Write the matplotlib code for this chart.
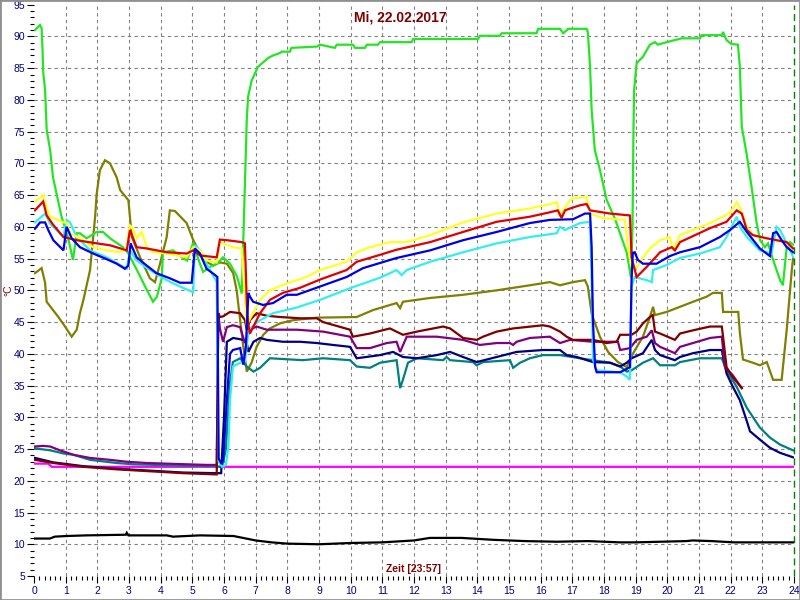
import matplotlib
matplotlib.use("Agg")
import matplotlib.pyplot as plt
from matplotlib.patches import Rectangle
import numpy as np

plt.rcParams['font.family'] = ['Liberation Sans', 'DejaVu Sans']

title_text = "Mi, 22.02.2017"
xlabel_text = "Zeit [23:57]"
ylabel_text = "°C"

# ---- series data (hour of day, °C) ----
green_t = [0.03, 0.19, 0.24, 0.27, 0.29, 0.35, 0.40, 0.51, 0.60, 0.87, 1.07, 1.23, 1.35, 1.45, 1.66, 1.98, 2.18, 2.40,
           2.81, 2.97, 3.25, 3.57, 3.76, 3.88, 4.04, 4.07, 4.39, 4.67, 4.83, 5.02, 5.24, 5.34, 5.56, 5.78, 5.97, 6.19,
           6.41, 6.56, 6.72, 6.76, 6.87, 7.07, 7.39, 7.55, 7.77, 7.82, 8.08, 8.13, 8.93, 9.03, 9.50, 9.56, 10.07, 10.14,
           10.45, 10.51, 10.86, 10.93, 11.93, 11.97, 14.02, 14.08, 14.71, 14.77, 15.87, 15.92, 16.61, 16.71, 16.83,
           16.86, 17.45, 17.49, 17.56, 17.61, 17.71, 17.87, 18.08, 18.36, 18.72, 18.85, 18.90, 18.93, 18.95, 19.03,
           19.23, 19.45, 19.61, 19.70, 19.98, 20.45, 21.03, 21.08, 21.72, 21.76, 21.87, 22.03, 22.23, 22.29, 22.35,
           22.50, 22.66, 22.82, 22.93, 23.08, 23.18, 23.34, 23.56, 23.65, 23.77, 23.87, 23.97]
green_v = [91.0, 91.8, 91.3, 87.9, 84.4, 81.6, 75.3, 72.1, 67.8, 61.6, 58.4, 54.8, 59.0, 59.0, 58.2, 59.2, 59.2, 58.2,
           56.8, 55.9, 53.2, 50.0, 48.2, 49.0, 52.0, 56.0, 56.3, 55.2, 54.7, 57.4, 54.2, 52.9, 53.7, 54.2, 55.2, 54.2,
           52.2, 49.5, 77.0, 80.5, 83.0, 85.2, 86.6, 87.0, 87.4, 87.6, 87.6, 88.2, 88.4, 88.7, 88.2, 88.7, 88.7, 88.2,
           88.2, 88.7, 88.7, 89.1, 89.1, 89.6, 89.6, 90.1, 90.1, 90.5, 90.5, 91.2, 91.2, 90.5, 91.0,
           91.2, 91.2, 90.7, 85.2, 78.4, 72.1, 69.0, 64.3, 61.1, 55.9, 52.0, 60.0, 75.0, 81.5, 85.8,
           86.8, 88.7, 89.1, 88.7, 89.1, 89.7, 89.7, 90.2, 90.2, 90.7, 89.4, 88.8, 88.7, 85.2, 75.8,
           71.6, 66.3, 60.6, 57.9, 56.8, 57.4, 54.8, 51.6, 50.8, 56.8, 57.6, 57.2]

yellow_t = [0.03, 0.29, 0.40, 0.51, 0.93, 1.03, 1.14, 1.45, 1.87, 2.30, 2.72, 2.93, 3.03, 3.14, 3.24, 3.40, 3.56, 3.77,
            4.19, 4.82, 5.03, 5.24, 5.45, 5.77, 5.87, 6.29, 6.56, 6.72, 6.82, 7.14, 7.45, 7.98, 8.61, 9.03, 9.35, 9.87,
            10.19, 10.61, 11.24, 11.77, 12.51, 13.55, 14.61, 15.66, 16.39, 16.51, 16.61, 16.71, 16.93, 17.02, 17.45,
            17.56, 17.97, 18.66, 18.76, 18.87, 19.03, 19.13, 19.45, 19.77, 20.08, 20.18, 20.40, 20.81, 21.44, 21.98,
            22.19, 22.29, 22.51, 22.70, 22.92, 23.14, 23.45, 23.65, 23.97]
yellow_v = [64.0, 65.0, 63.0, 61.6, 60.7, 60.7, 59.0, 58.2, 56.8, 56.3, 56.0, 56.8, 60.3, 59.5, 58.2, 59.2, 56.8, 56.0,
            55.8, 55.2, 56.8, 56.3, 54.7, 54.4, 57.6, 56.8, 56.6, 44.5, 45.5, 48.5, 50.0, 51.1, 52.1, 53.2, 53.7, 54.5,
            56.0, 56.8, 57.6, 57.6, 58.7, 60.7, 62.1, 62.9, 63.7, 63.9, 61.6, 62.6, 64.2, 64.5, 64.7,
            62.1, 61.4, 61.1, 56.8, 53.7, 53.5, 54.5, 56.6, 57.9, 58.4, 56.3, 58.7, 59.5, 60.8, 62.2,
            63.9, 63.1, 60.0, 58.7, 58.4, 58.2, 57.9, 57.6, 56.8]

red_t = [0.03, 0.29, 0.40, 0.61, 0.93, 1.35, 1.98, 2.40, 2.93, 3.03, 3.24, 3.56, 4.19, 4.82, 5.03, 5.24, 5.77, 5.87,
         6.09, 6.56, 6.66, 6.72, 6.76, 6.82, 7.14, 7.45, 7.86, 8.40, 9.03, 9.87, 10.19, 10.93, 11.45, 12.51, 13.55,
         14.61, 15.66, 16.29, 16.54, 16.66, 16.77, 16.93, 17.24, 17.45, 17.56, 18.19, 18.82, 18.87, 19.03, 19.35,
         19.77, 20.14, 20.24, 20.40, 21.35, 21.87, 22.19, 22.35, 22.51, 22.70, 23.14, 23.45, 23.77, 23.97]
red_v = [62.6, 64.0, 61.8, 60.3, 58.4, 57.9, 57.4, 57.1, 56.3, 59.5, 56.8, 56.6, 56.0, 55.8, 56.3, 55.5, 55.2, 58.0,
         57.9, 57.6, 57.4, 48.0, 44.8, 43.2, 46.4, 48.5, 49.6, 50.4, 51.7, 53.2, 54.5, 55.6, 56.4, 57.6, 59.2,
         60.8, 61.6, 62.3, 62.6, 61.4, 62.6, 62.9, 63.4, 63.6, 62.6, 62.1, 61.8, 55.2, 52.1, 53.7,
         56.0, 56.8, 56.3, 57.6, 59.8, 60.8, 62.6, 62.1, 59.5, 58.7, 58.2, 57.9, 57.6, 56.6]

blue_t = [0.03, 0.19, 0.35, 0.45, 0.61, 0.93, 1.03, 1.19, 1.45, 1.87, 2.30, 2.61, 2.87, 2.98, 3.05, 3.24, 3.56, 3.87,
          4.29, 4.61, 4.98, 5.08, 5.24, 5.45, 5.72, 5.79, 5.83, 5.91, 5.97, 6.09, 6.19, 6.28, 6.51, 6.61, 6.69, 6.77,
          6.82, 6.92, 7.23, 7.55, 7.98, 8.30, 9.03, 9.87, 10.39, 11.45, 12.51, 13.55, 14.61, 15.66, 16.29, 17.02,
          17.40, 17.56, 17.61, 17.65, 17.72, 17.77, 18.51, 18.82, 18.87, 18.91, 18.97, 19.07, 19.23, 19.66, 20.08,
          20.40, 21.03, 21.66, 21.98, 22.29, 22.51, 22.92, 23.24, 23.34, 23.45, 23.61, 23.77, 23.97]
blue_v = [59.7, 60.7, 60.7, 59.5, 57.9, 56.3, 60.0, 58.2, 56.8, 55.8, 54.9, 54.2, 53.4, 53.9, 57.4, 55.2, 53.9, 52.7,
          51.9, 51.2, 51.2, 56.6, 55.8, 53.4, 52.4, 52.1, 23.5, 22.8, 23.2, 32.7, 40.0, 40.6, 40.9, 38.3, 41.1, 49.6,
          49.0, 48.2, 47.7, 48.0, 49.3, 49.3, 50.6, 52.1, 53.5, 55.1, 56.3, 57.9, 59.2, 60.6, 61.1, 61.2,
          62.1, 62.1, 56.8, 45.3, 37.9, 37.1, 37.1, 37.9, 51.6, 55.9, 56.0, 54.8, 54.2, 54.2, 55.4,
          56.0, 56.8, 58.4, 59.5, 60.8, 59.2, 56.6, 55.4, 59.0, 59.2, 57.9, 56.8, 56.0]

cyan_t = [0.03, 0.35, 0.51, 0.93, 1.03, 1.14, 1.35, 1.77, 2.30, 2.93, 3.03, 3.24, 3.66, 4.19, 4.61, 5.03, 5.08, 5.24,
          5.45, 5.77, 5.83, 5.94, 6.06, 6.14, 6.19, 6.28, 6.51, 6.66, 6.76, 6.82, 7.14, 7.55, 8.30, 9.03, 10.07, 10.93,
          11.45, 11.61, 11.77, 12.51, 13.55, 14.61, 15.66, 16.51, 16.61, 16.77, 17.24, 17.56, 17.61, 17.65, 17.77,
          18.51, 18.72, 18.82, 18.87, 18.97, 19.35, 19.51, 19.55, 19.98, 20.40, 21.03, 21.66, 21.87, 22.19, 22.29,
          22.51, 22.92, 23.29, 23.45, 23.56, 23.77, 23.97]
cyan_v = [60.7, 62.1, 60.5, 58.4, 61.1, 60.7, 58.4, 56.3, 55.2, 53.4, 56.3, 54.7, 53.2, 51.6, 50.6, 49.7, 57.1, 56.3,
          54.2, 51.3, 23.0, 22.2, 22.5, 25.5, 32.7, 38.0, 38.6, 38.8, 43.0, 44.0, 45.3, 46.4, 47.3, 48.5, 50.5, 52.0,
          53.2, 52.4, 53.2, 54.5, 56.0, 57.4, 58.4, 59.0, 60.0, 59.5, 60.6, 60.8, 51.6, 39.1, 37.4,
          37.1, 36.4, 35.9, 50.6, 52.1, 51.6, 51.3, 53.2, 54.0, 55.1, 55.8, 56.8, 58.4, 61.6, 60.0,
          58.4, 56.3, 55.8, 60.0, 59.5, 57.4, 55.3]

olive_t = [0.03, 0.24, 0.35, 0.40, 0.77, 0.98, 1.19, 1.35, 1.45, 1.56, 1.77, 1.93, 1.98, 2.08, 2.24, 2.40, 2.61, 2.72,
           2.98, 3.09, 3.35, 3.66, 3.82, 3.98, 4.19, 4.29, 4.45, 4.82, 5.03, 5.35, 5.66, 5.87, 6.09, 6.29, 6.40, 6.51,
           6.61, 6.72, 6.87, 7.03, 7.24, 7.45, 7.77, 8.18, 8.93, 10.19, 10.71, 11.45, 11.56, 11.65, 12.51, 13.55,
           14.61, 15.66, 16.29, 16.61, 17.02, 17.40, 17.49, 17.61, 17.87, 18.13, 18.44, 18.72, 18.91, 19.23, 19.45,
           19.55, 19.61, 19.98, 20.81, 21.24, 21.44, 21.72, 21.76, 22.24, 22.29, 22.39, 22.70, 22.92, 23.14, 23.34,
           23.61, 23.77, 23.93, 23.97]
olive_v = [52.7, 53.5, 51.2, 48.2, 45.8, 44.3, 42.7, 43.8, 46.4, 48.5, 53.2, 61.6, 65.2, 68.9, 70.5, 70.0, 67.8, 65.8,
           64.2, 58.4, 55.2, 51.9, 51.3, 54.2, 58.4, 62.6, 62.5, 60.6, 57.9, 54.8, 53.9, 54.4, 54.2, 52.7, 50.0, 45.3,
           41.1, 37.2, 38.6, 41.1, 43.0, 44.0, 44.8, 45.3, 45.7, 45.8, 46.9, 48.0, 47.2, 48.2, 48.8, 49.3,
           50.0, 50.8, 51.3, 50.8, 51.3, 51.6, 50.6, 46.3, 42.7, 40.3, 38.7, 37.9, 40.0, 42.7, 45.8,
           47.4, 46.1, 46.6, 48.2, 49.0, 49.6, 49.6, 46.6, 46.6, 43.3, 39.1, 38.6, 38.2, 38.7, 35.9,
           35.9, 43.8, 53.2, 55.0]

maroon_t = [0.03, 0.61, 1.56, 2.61, 3.66, 4.71, 5.77, 5.82, 5.87, 5.97, 6.19, 6.51, 6.66, 6.72, 6.82, 7.03, 7.35, 7.77,
            8.40, 8.93, 9.13, 9.98, 10.07, 10.61, 11.24, 11.65, 12.09, 12.92, 13.14, 13.55, 13.98, 14.18, 14.61, 15.13,
            16.07, 16.29, 16.61, 16.82, 17.02, 17.65, 18.08, 18.40, 18.51, 18.87, 19.03, 19.23, 19.45, 19.54, 19.61,
            19.77, 20.24, 20.40, 20.81, 21.35, 21.72, 21.76, 21.87, 22.07, 22.35]
maroon_v = [23.3, 22.8, 22.2, 21.8, 21.5, 21.2, 21.0, 46.4, 45.8, 45.9, 46.6, 46.4, 45.3, 43.8, 45.3, 46.4, 46.0, 45.8,
            45.6, 45.6, 45.0, 43.8, 42.7, 43.2, 44.0, 43.0, 43.5, 44.3, 44.0, 42.5, 42.2, 42.7, 43.5, 44.0,
            44.5, 44.3, 43.5, 42.7, 42.2, 42.2, 41.7, 41.9, 43.0, 43.0, 43.5, 44.8, 45.8, 46.1, 43.5,
            43.2, 42.2, 43.2, 43.7, 44.3, 44.3, 42.7, 37.9, 36.3, 34.6]

purple_t = [0.03, 0.29, 0.51, 0.82, 1.24, 1.77, 2.40, 2.93, 3.56, 4.19, 4.82, 5.45, 5.77, 5.82, 5.87, 5.97, 6.09, 6.28,
            6.51, 6.66, 6.82, 7.03, 7.35, 8.30, 9.13, 9.98, 10.19, 10.61, 11.14, 11.45, 11.56, 11.77, 12.72, 13.55,
            14.08, 14.61, 15.03, 15.13, 15.24, 15.66, 16.29, 16.61, 16.93, 17.65, 18.44, 18.51, 18.82, 19.03, 19.35,
            19.51, 19.61, 19.77, 20.24, 20.40, 20.81, 21.35, 21.72, 21.82, 22.07, 22.35]
purple_v = [25.4, 25.5, 25.4, 24.8, 24.1, 23.6, 23.3, 23.0, 22.8, 22.7, 22.6, 22.5, 22.5, 46.4, 44.0, 41.9, 44.2, 44.5,
            44.2, 41.7, 43.8, 44.3, 43.8, 43.8, 43.5, 42.7, 40.9, 40.9, 41.7, 41.9, 40.3, 42.7, 42.7, 42.2,
            41.4, 41.7, 41.7, 41.4, 41.9, 42.5, 42.7, 41.7, 42.2, 41.9, 41.9, 40.6, 40.9, 42.2, 42.7,
            43.7, 41.7, 41.1, 40.1, 41.1, 41.7, 42.5, 42.7, 37.9, 36.6, 34.6]

navy_t = [0.03, 0.61, 1.56, 2.61, 3.66, 4.71, 5.77, 5.91, 6.00, 6.09, 6.29, 6.61, 6.72, 6.77, 6.93, 7.14, 7.35, 7.86,
          8.40, 8.93, 9.44, 9.98, 10.19, 10.93, 11.34, 11.65, 12.09, 12.72, 13.14, 13.55, 13.98, 14.61, 15.24, 16.07,
          16.61, 16.82, 17.14, 17.65, 18.19, 18.51, 18.72, 18.87, 19.23, 19.51, 19.61, 19.77, 20.24, 20.40, 20.81,
          21.35, 21.72, 21.87, 22.07, 22.29, 22.51, 22.61, 22.92, 23.24, 23.56, 23.97]
navy_v = [23.6, 22.9, 22.3, 21.9, 21.6, 21.3, 21.2, 21.2, 30.0, 41.9, 42.5, 42.2, 41.7, 40.3, 41.9, 42.5, 42.2, 41.9,
          41.9, 41.7, 41.4, 41.1, 39.3, 39.8, 40.3, 39.5, 39.3, 39.8, 40.3, 39.5, 38.7, 39.5, 40.3, 40.6,
          40.6, 39.8, 39.5, 38.7, 38.6, 38.0, 38.6, 39.3, 40.1, 42.2, 40.6, 39.8, 39.0, 39.5, 40.1,
          40.6, 40.6, 36.9, 34.8, 32.7, 29.4, 27.8, 26.5, 25.2, 24.4, 23.7]

teal_t = [0.03, 0.51, 0.93, 1.24, 1.77, 2.61, 3.14, 4.61, 5.66, 5.94, 6.06, 6.19, 6.28, 6.51, 6.72, 6.93, 7.14, 7.45,
          8.49, 9.13, 9.98, 10.19, 10.61, 10.93, 11.45, 11.49, 11.56, 11.65, 11.81, 12.09, 12.92, 13.03, 13.14, 13.86,
          13.98, 14.18, 15.03, 15.13, 15.35, 15.66, 16.07, 16.61, 17.24, 17.65, 18.19, 18.51, 18.72, 18.87, 19.23,
          19.55, 19.77, 20.24, 20.40, 21.03, 21.72, 21.87, 22.19, 22.51, 22.92, 23.24, 23.56, 23.97]
teal_v = [25.1, 24.8, 24.3, 24.1, 23.3, 22.8, 22.6, 22.4, 22.3, 22.2, 25.0, 35.4, 38.7, 39.3, 38.0, 37.2, 37.8, 39.3,
          39.0, 39.3, 39.0, 38.0, 37.8, 38.6, 39.0, 37.5, 34.6, 35.9, 38.6, 39.3, 39.0, 39.5, 39.0, 38.7,
          38.2, 38.7, 39.0, 37.8, 38.6, 39.3, 39.8, 39.8, 39.3, 39.0, 38.6, 38.0, 37.2, 37.4, 38.6,
          39.3, 38.2, 38.2, 38.7, 39.3, 39.3, 37.4, 34.8, 31.5, 28.4, 26.8, 25.7, 24.8]

magenta_t = [0.03, 0.45, 0.56, 23.97]
magenta_v = [22.7, 22.7, 22.2, 22.2]

black_t = [0.03, 0.50, 0.66, 1.03, 1.66, 2.90, 2.93, 2.98, 4.19, 4.39, 4.82, 5.24, 6.30, 6.60, 7.00, 7.50, 8.00, 9.00,
           10.00, 11.00, 12.00, 12.50, 13.50, 14.50, 15.50, 16.50, 17.50, 18.00, 18.50, 19.00, 19.80, 20.60, 20.80,
           21.40, 22.10, 23.00, 23.97]
black_v = [10.9, 10.9, 11.2, 11.3, 11.4, 11.5, 11.8, 11.4, 11.4, 11.2, 11.3, 11.4, 11.3, 11.0, 10.6, 10.3, 10.1, 10.0,
           10.2, 10.3, 10.6, 11.0, 11.0, 10.7, 10.5, 10.4, 10.5, 10.4, 10.3, 10.3, 10.4, 10.5, 10.6,
           10.5, 10.3, 10.3, 10.3]

series = [
    (magenta_t, magenta_v, "#FF00FF"),
    (black_t, black_v, "#000000"),
    (olive_t, olive_v, "#808000"),
    (teal_t, teal_v, "#008080"),
    (navy_t, navy_v, "#000080"),
    (purple_t, purple_v, "#800080"),
    (maroon_t, maroon_v, "#800000"),
    (green_t, green_v, "#22E622"),
    (cyan_t, cyan_v, "#33EEEE"),
    (yellow_t, yellow_v, "#FFFF22"),
    (red_t, red_v, "#E00000"),
    (blue_t, blue_v, "#0000E6"),
]

fig = plt.figure(figsize=(8, 6), dpi=100)
fig.patch.set_facecolor("white")
ax = fig.add_axes([34 / 800, 1 - 576 / 600, 760 / 800, (576 - 4.7) / 600])
ax.set_xlim(0, 24)
ax.set_ylim(5, 95)
for s in ax.spines.values():
    s.set_visible(False)

# grid (not at the axis limits)
for gx in range(1, 24):
    ax.axvline(gx, color="#808080", lw=0.8, ls=(0, (3, 3)), zorder=0)
for gy in range(10, 95, 5):
    ax.axhline(gy, color="#808080", lw=0.8, ls=(0, (3, 3)), zorder=0)

for t, v, c in series:
    ax.plot(t, v, color=c, lw=1.6, solid_joinstyle="miter")

ax.axvline(24, color="#008000", lw=1.0, ls=(0, (5, 3)), clip_on=False)

ax.set_xticks(range(0, 25))
ax.set_xticks(np.arange(0, 24.01, 1 / 6), minor=True)
ax.set_yticks(range(5, 96, 5))
ax.set_yticks(range(5, 96), minor=True)
ax.tick_params(axis="both", which="major", direction="out", length=5, width=0.8, color="black",
               labelcolor="#000080", labelsize=7.5)
ax.tick_params(axis="both", which="minor", direction="out", length=2.8, width=0.8, color="black")
ax.tick_params(axis="y", which="major", pad=1.5)
ax.tick_params(axis="x", which="major", pad=2)

fig.text(0.5, 1 - 17.5 / 600, title_text, ha="center", va="center", color="#800000",
         fontsize=10, fontweight="bold")
fig.text(414 / 800, 1 - 569 / 600, xlabel_text, ha="center", va="center", color="#800000",
         fontsize=7.5, fontweight="bold")
fig.text(8 / 800, 1 - 290 / 600, ylabel_text, ha="center", va="center", color="#800000",
         fontsize=7.5, rotation=90)

fig.patches.append(Rectangle((0, 0), 1, 1, transform=fig.transFigure, fill=False,
                             edgecolor="#909090", lw=2.0))

fig.savefig("out.png", dpi=100, facecolor="white")
